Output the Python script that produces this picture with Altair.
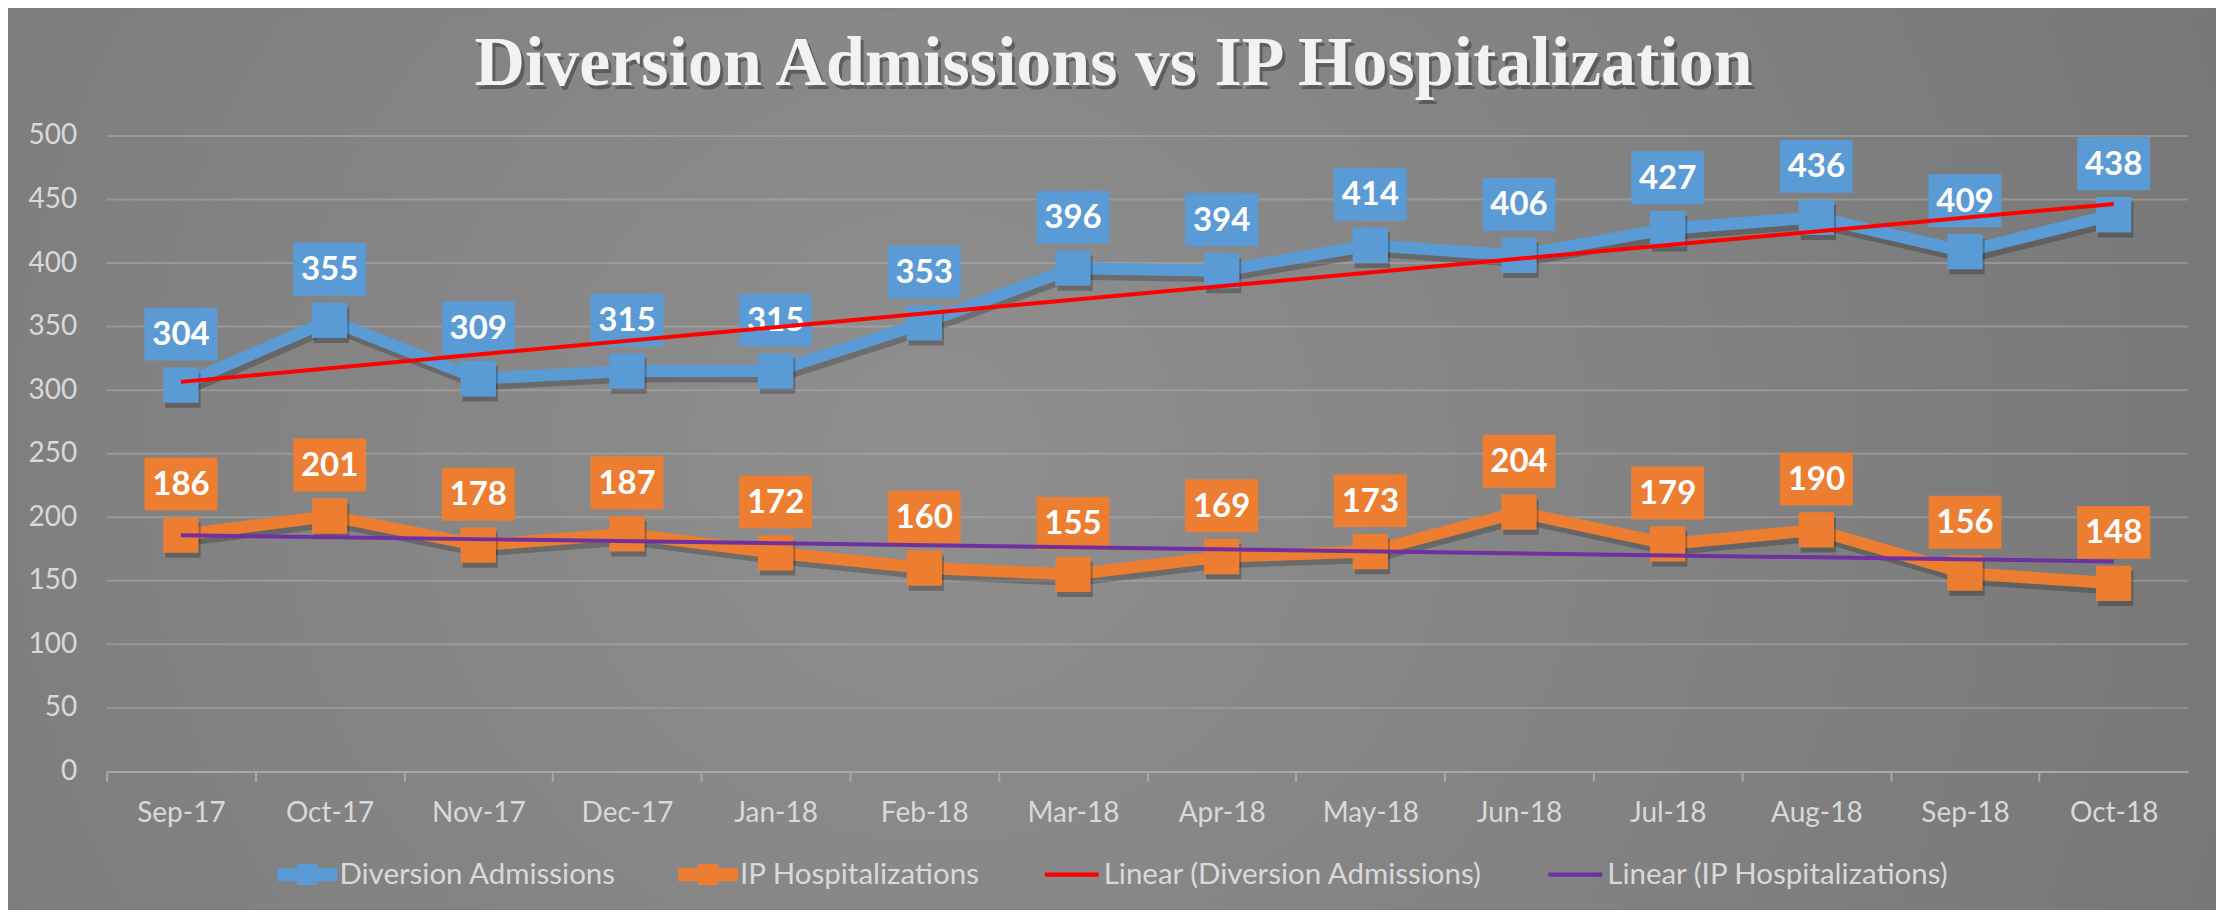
import json
import altair as alt
import pandas as pd

# ---------------- data ----------------
months = ["Sep-17", "Oct-17", "Nov-17", "Dec-17", "Jan-18", "Feb-18", "Mar-18",
          "Apr-18", "May-18", "Jun-18", "Jul-18", "Aug-18", "Sep-18", "Oct-18"]
diversion = [304, 355, 309, 315, 315, 353, 396, 394, 414, 406, 427, 436, 409, 438]
ip_hosp = [186, 201, 178, 187, 172, 160, 155, 169, 173, 204, 179, 190, 156, 148]
series_names = ["Diversion Admissions", "IP Hospitalizations"]
trend_names = ["Linear (Diversion Admissions)", "Linear (IP Hospitalizations)"]
legend_names = series_names + trend_names
series_colors = ["#5b9bd5", "#ed7d31", "#ff0000", "#7030a0"]
y_ticks = list(range(0, 501, 50))
title_text = "Diversion Admissions vs IP Hospitalization"

rows = []
for name, vals in zip(series_names, [diversion, ip_hosp]):
    for i, (m, v) in enumerate(zip(months, vals)):
        rows.append({"idx": i, "month": m, "series": name, "value": v})
df = pd.DataFrame(rows)

# ---------------- layout ----------------
W = 2083.3
H = 636
PAD = {"left": 98.7, "top": 127.7, "right": 28, "bottom": 138.3}
HALF_BAND = W / len(months) / 2

color_scale = alt.Scale(domain=legend_names, range=series_colors)
shape_scale = alt.Scale(
    domain=legend_names,
    range=[
        "M-1,-0.22H1V0.22H-1Z M-0.34,-0.35H0.34V0.35H-0.34Z",
        "M-1,-0.22H1V0.22H-1Z M-0.34,-0.35H0.34V0.35H-0.34Z",
        "M-0.9,-0.07H0.9V0.07H-0.9Z",
        "M-0.9,-0.07H0.9V0.07H-0.9Z",
    ],
)
y_scale = alt.Scale(domain=[0, 500], nice=False, zero=True)

label_expr = f"{json.dumps(months)}[datum.value] || ''"
x_enc = alt.X(
    "idx:Q",
    scale=alt.Scale(domain=[-0.5, len(months) - 0.5], nice=False, zero=False),
    axis=alt.Axis(
        values=list(range(len(months))),
        labelExpr=label_expr,
        title=None,
        grid=False,
        domain=True,
        domainColor="#a8a8a8",
        domainWidth=2,
        ticks=True,
        tickColor="#a8a8a8",
        tickWidth=2,
        tickSize=10,
        tickOffset=-HALF_BAND,
        labelOffset=HALF_BAND,
        labelFont="Lato",
        labelFontSize=28,
        labelColor="#d9d9d9",
        labelPadding=18,
        zindex=1,
    ),
)
y_enc = alt.Y(
    "value:Q",
    scale=y_scale,
    axis=alt.Axis(
        values=y_ticks,
        title=None,
        grid=False,
        domain=False,
        ticks=False,
        labelFont="Lato",
        labelFontSize=28,
        labelColor="#d9d9d9",
        labelPadding=30,
        zindex=1,
    ),
)

base = alt.Chart(df)

# legend-only layer (no marks drawn; supplies the combined colour/shape legend)
legend_def = alt.Legend(
    orient="none", legendX=171, legendY=709, direction="horizontal", title=None,
    labelFont="Lato", labelFontSize=29.5, labelColor="#d9d9d9", labelLimit=800,
    symbolSize=3600, symbolStrokeWidth=0, labelOffset=2, columnPadding=62,
    padding=0, symbolOpacity=1, zindex=2,
)
legend_layer = base.transform_filter("false").mark_point(filled=True, opacity=1).encode(
    x=x_enc, y=y_enc,
    color=alt.Color("series:N", scale=color_scale, legend=legend_def),
    shape=alt.Shape("series:N", scale=shape_scale, legend=legend_def),
)

# background (decorative gradient panel covering the whole chart)
bg = alt.Chart(pd.DataFrame({"k": [0]})).mark_rect(
    color=alt.RadialGradient(
        gradient="radial",
        stops=[alt.GradientStop(color="#8f8f8f", offset=0),
               alt.GradientStop(color="#727272", offset=1)],
        x1=0.42, y1=0.5, x2=0.42, y2=0.5, r1=0, r2=0.75,
    )
).encode(
    x=alt.value(-PAD["left"]), x2=alt.value(W + PAD["right"]),
    y=alt.value(-PAD["top"]), y2=alt.value(H + PAD["bottom"]),
)

# horizontal gridlines at the y tick values
grid = alt.Chart(pd.DataFrame({"value": y_ticks[1:]})).mark_rule(
    color="#b4b4b4", opacity=0.45, strokeWidth=2
).encode(y=y_enc)

# title (shadow + text)
title_shadow = alt.Chart(pd.DataFrame({"t": [title_text]})).mark_text(
    font="Liberation Serif", fontSize=70, fontWeight="bold", color="#3c3c3c",
    opacity=0.55, baseline="alphabetic", align="center",
).encode(x=alt.value(1010.8), y=alt.value(-47.2), text="t:N")
title = alt.Chart(pd.DataFrame({"t": [title_text]})).mark_text(
    font="Liberation Serif", fontSize=70, fontWeight="bold", color="#f2f2f2",
    baseline="alphabetic", align="center",
).encode(x=alt.value(1007.8), y=alt.value(-50.7), text="t:N")

line_shadow = base.mark_line(color="black", opacity=0.22, strokeWidth=13,
                             xOffset=2, yOffset=5).encode(
    x=x_enc, y=y_enc, detail="series:N")
lines = base.mark_line(strokeWidth=12).encode(
    x=x_enc, y=y_enc,
    color=alt.Color("series:N", scale=color_scale, legend=None))
marker_shadow = base.mark_point(shape="square", filled=True, color="black",
                                opacity=0.25, size=1250, xOffset=2, yOffset=5).encode(
    x=x_enc, y=y_enc)
markers = base.mark_point(shape="square", filled=True, opacity=1, size=1250).encode(
    x=x_enc, y=y_enc,
    color=alt.Color("series:N", scale=color_scale, legend=None))
boxes = base.mark_point(shape="M-1,-0.726H1V0.726H-1Z", filled=True, opacity=1,
                        size=5329, yOffset=-51).encode(
    x=x_enc, y=y_enc,
    color=alt.Color("series:N", scale=color_scale, legend=None))
labels = base.mark_text(font="Lato", fontWeight="bold", fontSize=33, color="white",
                        baseline="middle", align="center", yOffset=-50).encode(
    x=x_enc, y=y_enc, text="value:Q")
trends = base.transform_regression(
    "idx", "value", groupby=["series"]
).transform_calculate(
    trend="'Linear (' + datum.series + ')'"
).mark_line(strokeWidth=4).encode(
    x=x_enc, y=y_enc,
    color=alt.Color("trend:N", scale=color_scale, legend=None))

chart = alt.layer(
    legend_layer, bg, grid, title_shadow, title, line_shadow, lines, marker_shadow,
    markers, boxes, labels, trends
).properties(
    width=W, height=H,
    autosize=alt.AutoSizeParams(type="none"),
    padding=PAD,
    background="#7d7d7d",
).configure_view(stroke=None)

chart.save("out.html", embed_options={"renderer": "svg", "actions": False})
